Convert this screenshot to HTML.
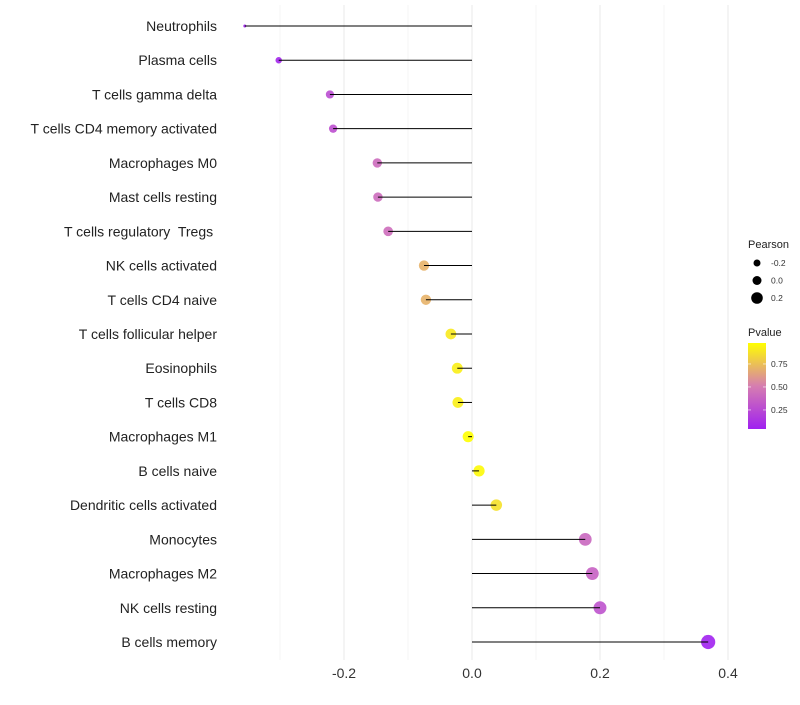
<!DOCTYPE html>
<html><head><meta charset="utf-8"><style>
body{margin:0;background:#fff;font-family:"Liberation Sans",sans-serif}
svg text{font-family:"Liberation Sans",sans-serif;white-space:pre}
</style></head><body>
<svg id="chart" width="800" height="700" xmlns="http://www.w3.org/2000/svg"></svg>
<script>
const categories=["Neutrophils","Plasma cells","T cells gamma delta","T cells CD4 memory activated","Macrophages M0","Mast cells resting","T cells regulatory  Tregs ","NK cells activated","T cells CD4 naive","T cells follicular helper","Eosinophils","T cells CD8","Macrophages M1","B cells naive","Dendritic cells activated","Monocytes","Macrophages M2","NK cells resting","B cells memory"];
const pearson=[-0.355,-0.302,-0.222,-0.217,-0.148,-0.147,-0.131,-0.075,-0.072,-0.033,-0.023,-0.022,-0.006,0.011,0.038,0.177,0.188,0.2,0.369];
const pvalue=[0.05,0.07,0.27,0.28,0.42,0.42,0.43,0.7,0.7,0.9,0.92,0.92,0.98,0.96,0.87,0.4,0.37,0.3,0.05];
const xTicks=[-0.2,0.0,0.2,0.4];
const xMinor=[-0.3,-0.1,0.1,0.3];
const sizeLegend=[-0.2,0.0,0.2];
const colorTicks=[0.25,0.5,0.75];

const svg=document.getElementById('chart');
const NS='http://www.w3.org/2000/svg';
const x=v=>472+v*640;
const y=i=>26+i*(616/18);
const r=v=>1.5+5.6*Math.pow(Math.max(0,(v+0.355)/0.724),0.45);
function lerp(a,b,t){return a.map((c,k)=>Math.round(c+(b[k]-c)*t));}
function color(p){const s=[[160,32,240],[214,125,176],[255,255,0]];let t=Math.max(0,Math.min(1,(p-0.04)/0.94));
 const c=t<0.5?lerp(s[0],s[1],t*2):lerp(s[1],s[2],(t-0.5)*2);return `rgb(${c})`;}
function mk(tag,attrs,parent){const e=document.createElementNS(NS,tag);for(const k in attrs)e.setAttribute(k,attrs[k]);(parent||svg).appendChild(e);return e;}

xMinor.forEach(v=>{const l=mk('line',{x1:x(v),x2:x(v),y1:5,y2:660,stroke:'#f2f2f2','stroke-width':0.8});

});
xTicks.forEach(v=>{const l=mk('line',{x1:x(v),x2:x(v),y1:5,y2:660,stroke:'#ebebeb','stroke-width':1.1});


const t=mk('text',{x:x(v),y:678,'text-anchor':'middle','font-size':14,fill:'#333'});t.textContent=v.toFixed(1);

});

categories.forEach((c,i)=>{
 const t=mk('text',{x:217,y:y(i)+5,'text-anchor':'end','font-size':14,fill:'#222'});t.textContent=c;
 
 
 const d=mk('circle',{cx:x(pearson[i]),cy:y(i),r:r(pearson[i]),fill:color(pvalue[i]),'fill-opacity':0.9});
 
 
 const l=mk('line',{x1:x(0),x2:x(pearson[i]),y1:y(i),y2:y(i),stroke:'#000','stroke-width':1});
 
 
});

const st=mk('text',{x:748,y:248,'font-size':11,fill:'#222'});st.textContent='Pearson';


const legR=[3.5,4.5,5.8];
sizeLegend.forEach((v,k)=>{const cy=263+k*17.5;
 const c=mk('circle',{cx:757,cy:cy,r:legR[k],fill:'#000'});
 
 
 const t=mk('text',{x:771,y:cy+3,'font-size':8.5,fill:'#333'});t.textContent=v.toFixed(1);
 
 });

const ct=mk('text',{x:748,y:336,'font-size':11,fill:'#222'});ct.textContent='Pvalue';


const defs=mk('defs',{});const g=mk('linearGradient',{id:'pg',x1:0,y1:1,x2:0,y2:0},defs);
for(let k=0;k<=10;k++){const p=0.043+k*(0.978-0.043)/10;mk('stop',{offset:k/10,'stop-color':color(p)},g);}
const bar=mk('rect',{x:748,y:343,width:18,height:86,fill:'url(#pg)'});


colorTicks.forEach(v=>{const cy=429-(v-0.043)/(0.935)*86;
 mk('line',{x1:748,x2:751,y1:cy,y2:cy,stroke:'#fff','stroke-width':0.6});
 mk('line',{x1:763,x2:766,y1:cy,y2:cy,stroke:'#fff','stroke-width':0.6});
 const t=mk('text',{x:771,y:cy+3,'font-size':8.5,fill:'#333'});t.textContent=v.toFixed(2);
 
 });
</script>
</body></html>
